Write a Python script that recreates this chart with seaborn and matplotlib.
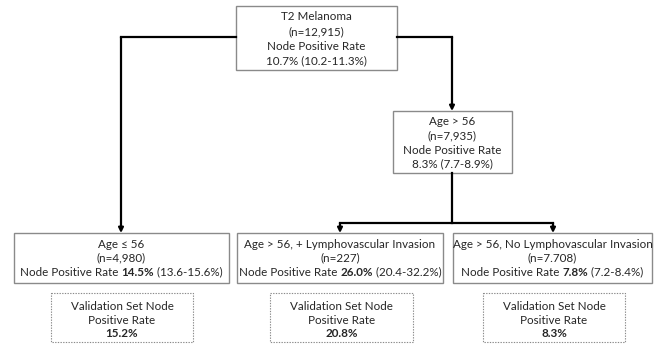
import matplotlib
matplotlib.use("Agg")
import matplotlib.pyplot as plt
import seaborn as sns
from matplotlib.patches import Rectangle

# ---- data ----
node_titles = ["T2 Melanoma", "Age > 56", "Age \u2264 56",
               "Age > 56, + Lymphovascular Invasion",
               "Age > 56, No Lymphovascular Invasion"]
node_n = ["12,915", "7,935", "4,980", "227", "7.708"]
node_rate = ["10.7%", "8.3%", "14.5%", "26.0%", "7.8%"]
node_ci = ["10.2-11.3%", "7.7-8.9%", "13.6-15.6%", "20.4-32.2%", "7.2-8.4%"]
validation_rate = ["15.2%", "20.8%", "8.3%"]

sns.set_theme(style="white")
FAM = ["Lato", "DejaVu Sans"]
plt.rcParams["font.family"] = FAM
FS = 8.4
TXT = "#262626"

fig = plt.figure(figsize=(6.56, 3.45), dpi=100)
ax = fig.add_axes([0, 0, 1, 1])
ax.set_xlim(0, 656)
ax.set_ylim(345, 0)
ax.axis("off")
fig.canvas.draw()
renderer = fig.canvas.get_renderer()


def box(x0, x1, y0, y1, dashed=False):
    if dashed:
        r = Rectangle((x0, y0), x1 - x0, y1 - y0, fill=False, ec="#8a8a8a",
                      lw=0.8, ls=(0, (1.2, 1.2)))
    else:
        r = Rectangle((x0, y0), x1 - x0, y1 - y0, fill=False, ec="#8a8a8a", lw=1.0)
    ax.add_patch(r)


def line(cx, y, segments):
    """segments: list of (text, weight); centered at cx."""
    texts = [ax.text(0, y, s, fontsize=FS, fontweight=w, color=TXT,
                     ha="left", va="center", family=FAM) for s, w in segments]
    widths = []
    inv = ax.transData.inverted()
    for t in texts:
        bb = t.get_window_extent(renderer)
        p0 = inv.transform((bb.x0, bb.y0))
        p1 = inv.transform((bb.x1, bb.y0))
        widths.append(p1[0] - p0[0])
    total = sum(widths)
    x = cx - total / 2
    for t, w in zip(texts, widths):
        t.set_x(x)
        x += w


def seg(x0, y0, x1, y1):
    ax.plot([x0, x1], [y0, y1], color="black", lw=1.6, solid_capstyle="projecting")


def arrow(x, y0, y1):
    ax.annotate("", xy=(x, y1), xytext=(x, y0),
                arrowprops=dict(arrowstyle="-|>", color="black", lw=1.6,
                                mutation_scale=7, shrinkA=0, shrinkB=0))


# ---- layout ----
boxes = [(236, 397, 6, 70), (393, 512, 111, 173),
         (14, 229, 233, 283), (237, 443, 233, 283), (453, 652, 233, 283)]
vboxes = [(51, 193, 293, 342), (270, 413, 293, 342), (483, 625, 293, 342)]

for b in boxes:
    box(*b)
for b in vboxes:
    box(*b, dashed=True)

# top two boxes: 4 lines
for i, ys in zip([0, 1], [(17, 32, 46.5, 61), (121.5, 135.5, 150, 164)]):
    cx = (boxes[i][0] + boxes[i][1]) / 2
    line(cx, ys[0], [(node_titles[i], "normal")])
    line(cx, ys[1], [("(n=" + node_n[i] + ")", "normal")])
    line(cx, ys[2], [("Node Positive Rate", "normal")])
    line(cx, ys[3], [(node_rate[i] + " (" + node_ci[i] + ")", "normal")])

# bottom boxes: 3 lines with bold rate
for i in [2, 3, 4]:
    cx = (boxes[i][0] + boxes[i][1]) / 2
    line(cx, 244, [(node_titles[i], "normal")])
    line(cx, 258, [("(n=" + node_n[i] + ")", "normal")])
    line(cx, 272, [("Node Positive Rate ", "normal"), (node_rate[i], "bold"),
                   (" (" + node_ci[i] + ")", "normal")])

for j, vb in enumerate(vboxes):
    cx = (vb[0] + vb[1]) / 2
    line(cx, 306, [("Validation Set Node", "normal")])
    line(cx, 320, [("Positive Rate", "normal")])
    line(cx, 333.5, [(validation_rate[j], "bold")])

# ---- connectors ----
seg(236, 37, 121, 37)
arrow(121, 37, 233)
seg(397, 37, 452, 37)
arrow(452, 37, 111)
seg(452, 173, 452, 223)
seg(340, 223, 553, 223)
arrow(340, 223, 233)
arrow(553, 223, 233)

fig.savefig("out.png", dpi=100, facecolor="white")
